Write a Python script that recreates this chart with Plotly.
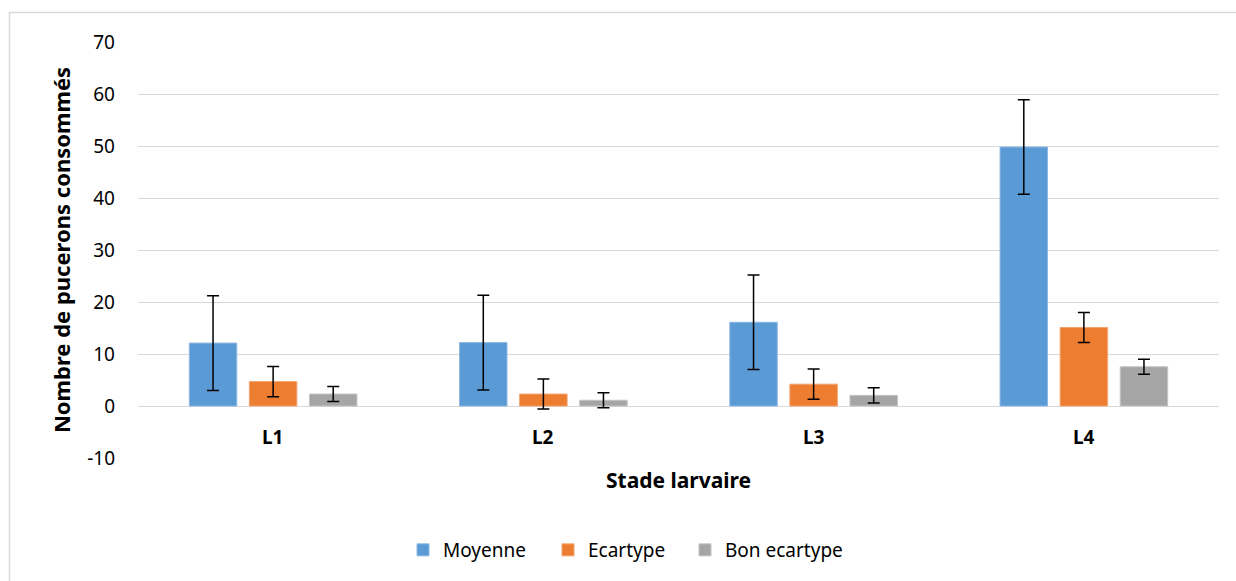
import plotly.graph_objects as go

categories = ["L1", "L2", "L3", "L4"]
moyenne = [12.1, 12.2, 16.1, 49.8]
moyenne_err = [9.1, 9.1, 9.1, 9.1]
ecartype = [4.7, 2.3, 4.2, 15.1]
ecartype_err = [2.9, 2.9, 2.9, 2.9]
bon_ecartype = [2.3, 1.1, 2.05, 7.55]
bon_ecartype_err = [1.45, 1.45, 1.45, 1.45]
y_tick_vals = [-10, 0, 10, 20, 30, 40, 50, 60, 70]
y_tick_text = ["-10", "0", "10", "20", "30", "40", "50", "60", "70"]

series = [
    ("Moyenne", moyenne, moyenne_err, "#5B9BD5", "#8DB8E3", "legend", 403),
    ("Ecartype", ecartype, ecartype_err, "#ED7D31", "#F4A46F", "legend2", 548),
    ("Bon ecartype", bon_ecartype, bon_ecartype_err, "#A5A5A5", "#C4C4C4", "legend3", 685),
]

FONT = "Noto Sans"
L, R, T, B = 138, 17, 42, 123
W, H = 1236, 581
pw, ph = W - L - R, H - T - B

fig = go.Figure()
legends = {}
for name, vals, errs, col, edge, leg, lx in series:
    fig.add_trace(go.Bar(
        x=categories, y=vals, name=name, legend=leg,
        marker=dict(color=col, line=dict(color=edge, width=1)),
        error_y=dict(type="data", array=errs, visible=True,
                     color="black", thickness=1.5, width=6),
    ))
    legends[leg] = dict(orientation="h", x=(lx - L) / pw, xanchor="left",
                        y=-(550 - 458) / ph, yanchor="middle",
                        font=dict(family=FONT, size=19),
                        itemwidth=30, bgcolor="rgba(0,0,0,0)")

annotations = [
    dict(x=c, y=0, xref="x", yref="y", text="<b>%s</b>" % c, showarrow=False,
         yanchor="middle", yshift=-31, font=dict(family=FONT, size=19, color="#000"))
    for c in categories
]
annotations.append(dict(x=0.5, y=-(480 - 458) / ph, xref="paper", yref="paper",
                        text="<b>Stade larvaire</b>", showarrow=False,
                        yanchor="middle",
                        font=dict(family=FONT, size=21, color="#000")))

fig.update_layout(
    width=W, height=H,
    margin=dict(l=L, r=R, t=T, b=B, autoexpand=False),
    paper_bgcolor="white", plot_bgcolor="white",
    barmode="group", bargap=0.333, bargroupgap=0.21,
    font=dict(family=FONT, size=19, color="#000"),
    showlegend=True,
    xaxis=dict(showticklabels=False, showgrid=False, zeroline=False,
               showline=False, automargin=False),
    yaxis=dict(range=[-10, 70], tickvals=y_tick_vals, ticktext=y_tick_text,
               showgrid=True, gridcolor="#D9D9D9",
               gridwidth=1, zeroline=False, showline=False, automargin=False,
               tickfont=dict(family=FONT, size=19),
               ticklabelstandoff=22,
               title=dict(text="<b>Nombre de pucerons consommés</b>",
                          font=dict(family=FONT, size=22), standoff=10)),
    annotations=annotations,
    shapes=[dict(type="rect", xref="paper", yref="paper",
                 x0=(9.5 - L) / pw, x1=(1250 - L) / pw,
                 y0=-(H + 10 - T - ph) / ph, y1=(H - B - 12.5) / ph,
                 line=dict(color="#D9D9D9", width=1.5), fillcolor="rgba(0,0,0,0)")],
    **legends,
)

fig.write_html("out.html", config={"displayModeBar": False},
               post_script="document.body.style.margin='0';document.body.style.overflow='hidden';")
